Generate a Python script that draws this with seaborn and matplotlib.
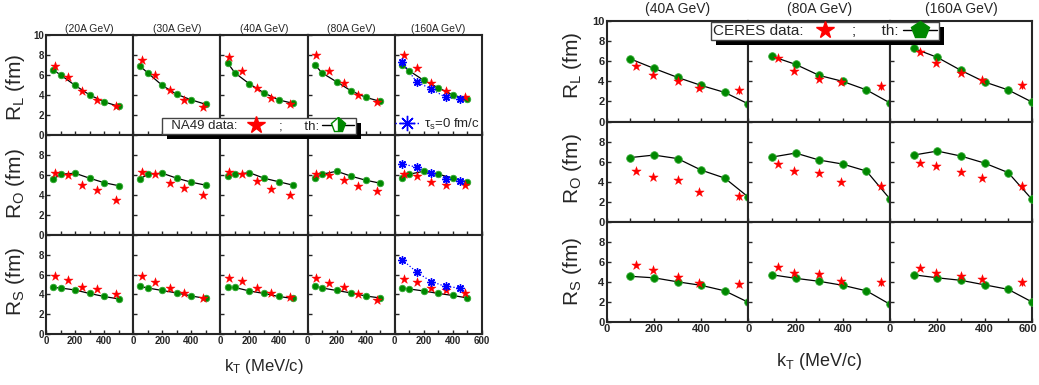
import matplotlib
matplotlib.use("Agg")
import matplotlib.pyplot as plt
import seaborn as sns
from matplotlib.lines import Line2D
from matplotlib.patches import Rectangle
from matplotlib.transforms import ScaledTranslation

# ---- NA49 (left block) ----
na49_energies = ['(20A GeV)', '(30A GeV)', '(40A GeV)', '(80A GeV)', '(160A GeV)']
na49_kt = [60, 150, 250, 350, 480]
na49_th_kt = [50, 100, 200, 300, 400, 500]
tau0_kt = [50, 150, 250, 350, 450]

na49_rl = [[6.9, 5.8, 4.4, 3.5, 2.9],
           [7.5, 6.0, 4.45, 3.5, 2.8],
           [7.75, 6.4, 4.7, 3.7, 3.05],
           [8.0, 6.35, 5.2, 4.0, 3.25],
           [8.0, 6.65, 5.2, 4.4, 3.8]]
na49_ro = [[6.15, 5.95, 4.95, 4.45, 3.5],
           [6.25, 6.05, 5.15, 4.7, 4.0],
           [6.25, 6.05, 5.35, 4.55, 3.95],
           [6.05, 6.0, 5.5, 4.85, 4.4],
           [6.05, 5.85, 5.25, 4.95, 5.0]]
na49_rs = [[5.9, 5.45, 4.7, 4.5, 4.05],
           [5.9, 5.25, 4.6, 4.1, 3.65],
           [5.65, 5.4, 4.6, 4.15, 3.75],
           [5.7, 5.2, 4.7, 4.0, 3.45],
           [5.55, 5.25, 4.65, 4.4, 4.15]]

th_na49_rl = [[6.5, 6.0, 4.95, 4.0, 3.3, 2.85],
              [6.85, 6.2, 4.95, 4.05, 3.5, 3.05],
              [7.2, 6.2, 5.1, 4.2, 3.5, 3.15],
              [7.0, 6.2, 5.3, 4.4, 3.75, 3.35],
              [7.0, 6.4, 5.45, 4.7, 4.0, 3.55]]
th_na49_ro = [[5.55, 6.05, 6.15, 5.65, 5.2, 4.9],
              [5.6, 6.05, 6.15, 5.65, 5.25, 4.95],
              [5.85, 6.05, 6.2, 5.65, 5.3, 4.95],
              [5.65, 6.05, 6.35, 5.85, 5.45, 5.15],
              [5.65, 6.05, 6.35, 6.05, 5.65, 5.25]]
th_na49_rs = [[4.7, 4.65, 4.45, 4.1, 3.8, 3.55],
              [4.8, 4.65, 4.4, 4.15, 3.85, 3.6],
              [4.7, 4.7, 4.35, 4.1, 3.8, 3.6],
              [4.85, 4.65, 4.4, 4.15, 3.85, 3.65],
              [4.65, 4.55, 4.35, 4.1, 3.9, 3.65]]

# tau_s = 0 fm/c curves (160A only)
tau0_rl = [7.3, 5.3, 4.6, 3.75, 3.55]
tau0_ro = [7.1, 6.75, 6.15, 5.6, 5.4]
tau0_rs = [7.5, 6.25, 5.3, 4.8, 4.65]

# ---- CERES (right block) ----
ceres_energies = ['(40A GeV)', '(80A GeV)', '(160A GeV)']
ceres_kt = [125, 195, 300, 390, 560]
ceres_th_kt = [100, 200, 300, 400, 500, 600]
ceres_err = [0.15, 0.15, 0.15, 0.15, 0.35]

ceres_rl = [[5.5, 4.65, 4.05, 3.3, 3.1],
            [6.35, 5.05, 4.25, 3.9, 3.5],
            [6.9, 5.85, 4.85, 4.15, 3.6]]
ceres_ro = [[5.05, 4.5, 4.15, 2.95, 2.55],
            [5.8, 5.05, 4.85, 3.95, 3.6],
            [5.85, 5.6, 4.95, 4.35, 3.55]]
ceres_rs = [[5.65, 5.15, 4.5, 3.85, 3.8],
            [5.5, 4.85, 4.75, 4.05, 3.95],
            [5.35, 4.85, 4.55, 4.25, 3.95]]

th_ceres_rl = [[6.25, 5.3, 4.4, 3.6, 2.9, 1.75],
               [6.5, 5.7, 4.6, 4.0, 3.15, 1.85],
               [7.3, 6.4, 5.1, 3.95, 3.15, 1.95]]
th_ceres_ro = [[6.4, 6.65, 6.3, 5.15, 4.35, 2.45],
               [6.45, 6.85, 6.15, 5.75, 5.05, 2.25],
               [6.65, 7.05, 6.55, 5.85, 4.9, 2.25]]
th_ceres_rs = [[4.55, 4.4, 4.0, 3.65, 3.1, 1.95],
               [4.7, 4.35, 4.05, 3.65, 3.1, 1.75],
               [4.7, 4.4, 4.15, 3.7, 3.25, 2.0]]

row_labels = [r'R$_\mathrm{L}$ (fm)', r'R$_\mathrm{O}$ (fm)', r'R$_\mathrm{S}$ (fm)']

sns.set_style("ticks")
plt.rcParams['font.family'] = ['Liberation Sans', 'DejaVu Sans']
plt.rcParams['mathtext.fontset'] = 'custom'
plt.rcParams['mathtext.rm'] = 'Liberation Sans'
plt.rcParams['mathtext.it'] = 'Liberation Sans:italic'
plt.rcParams['mathtext.bf'] = 'Liberation Sans:bold'

GREEN = '#008800'
W, H = 1039, 385
fig = plt.figure(figsize=(W / 100, H / 100), dpi=100)


def add_ax(x, y, w, h):
    return fig.add_axes([x / W, 1 - (y + h) / H, w / W, h / H])


def style_ax(ax, col, ncol, row, fs):
    ax.set_xlim(0, 600)
    ax.set_ylim(0, 10)
    xt = list(range(0, 601, 100))
    xl = []
    for v in xt:
        if row == 2 and v % 200 == 0 and (v < 600 or col == ncol - 1):
            xl.append(str(v))
        else:
            xl.append('')
    ax.set_xticks(xt)
    ax.set_xticklabels(xl, fontsize=fs, fontweight='bold')
    yt = list(range(0, 11, 2))
    yl = []
    for v in yt:
        if col == 0 and (v < 10 or row == 0):
            yl.append(str(v))
        else:
            yl.append('')
    ax.set_yticks(yt)
    ax.set_yticklabels(yl, fontsize=fs, fontweight='bold')
    ax.tick_params(direction='in', length=3, width=1, pad=1.5)
    for s in ax.spines.values():
        s.set_linewidth(1.5)
    ax.set_xlabel('')
    ax.set_ylabel('')


def draw_panel(ax, th_kt, th_y, d_kt, d_y, d_err, s_th, s_d):
    sns.lineplot(x=th_kt, y=th_y, ax=ax, color='black', lw=0.9, zorder=2)
    sns.scatterplot(x=th_kt, y=th_y, ax=ax, marker='o', s=s_th, color=GREEN,
                    edgecolor='#33aa33', linewidth=0.6, zorder=3)
    if d_err is not None:
        ax.errorbar(d_kt, d_y, yerr=d_err, fmt='none', ecolor='red', elinewidth=0.8, zorder=3)
    sns.scatterplot(x=d_kt, y=d_y, ax=ax, marker='*', s=s_d, color='red',
                    edgecolor='red', linewidth=0.3, zorder=4)


# ---------- left block: NA49 ----------
lx0, lw_, ly0, lh = 46, 87.2, 35, 99.8
na49_sets = [(na49_rl, th_na49_rl, tau0_rl), (na49_ro, th_na49_ro, tau0_ro), (na49_rs, th_na49_rs, tau0_rs)]
tau_ax = None
for r, (dat, th, tau) in enumerate(na49_sets):
    for c in range(5):
        ax = add_ax(lx0 + c * lw_, ly0 + r * lh, lw_, lh)
        draw_panel(ax, na49_th_kt, th[c], na49_kt, dat[c], None, 22, 48)
        if c == 4:
            sns.lineplot(x=tau0_kt, y=tau, ax=ax, color='blue', lw=0.9, ls=':', zorder=2)
            ax.plot(tau0_kt, tau, ls='none', marker=(8, 2, 0), ms=6, mew=1, color='blue', zorder=4)
            if r == 0:
                tau_ax = ax
        style_ax(ax, c, 5, r, 7)
        if r == 0:
            ax.set_title(na49_energies[c], fontsize=7.5, pad=2.5)
    fig.text(15.5 / W, 1 - (87 + r * 97) / H, row_labels[r], rotation=90,
             ha='center', va='center', fontsize=15)

fig.text(264 / W, 1 - 366 / H, r'k$_\mathrm{T}$ (MeV/c)', ha='center', va='center', fontsize=12)

h_tau = Line2D([], [], color='blue', ls=':', lw=1, marker=(8, 2, 0), ms=11, mew=1)
tau_ax.legend([h_tau], [r'τ$_\mathrm{s}$=0 fm/c'], loc='lower right', frameon=False, fontsize=9.5,
              handlelength=1.9, handletextpad=0.3, borderaxespad=0.1, borderpad=0.1)

# ---------- right block: CERES ----------
rx0, rw_, ry0, rh = 606.7, 141.7, 21.3, 100.2
ceres_sets = [(ceres_rl, th_ceres_rl), (ceres_ro, th_ceres_ro), (ceres_rs, th_ceres_rs)]
right_label_y = [65, 169, 271]
for r, (dat, th) in enumerate(ceres_sets):
    for c in range(3):
        ax = add_ax(rx0 + c * rw_, ry0 + r * rh, rw_, rh)
        draw_panel(ax, ceres_th_kt, th[c], ceres_kt, dat[c], ceres_err, 30, 50)
        style_ax(ax, c, 3, r, 8)
        if r == 0:
            ax.set_title(ceres_energies[c], fontsize=10, pad=6)
        if r == 2 and c == 2:
            # keep the final "600" inside the canvas
            lab = ax.get_xticklabels()[-1]
            lab.set_transform(lab.get_transform() + ScaledTranslation(-4 / 100, 0, fig.dpi_scale_trans))
    fig.text(573 / W, 1 - right_label_y[r] / H, row_labels[r], rotation=90,
             ha='center', va='center', fontsize=15)

fig.text(819 / W, 1 - 361 / H, r'k$_\mathrm{T}$ (MeV/c)', ha='center', va='center', fontsize=13)

# ---------- legends with black drop shadow ----------
h_star = Line2D([], [], ls='none', marker='*', color='red', ms=13)
h_th_l = Line2D([], [], color='black', lw=1, marker='p', ms=11, mfc=GREEN, mec=GREEN,
                fillstyle='right', markerfacecoloralt='white')
h_th_r = Line2D([], [], color='black', lw=1, marker='p', ms=13, mfc=GREEN, mec=GREEN)

leg1 = fig.legend([h_star, h_th_l], ['  NA49 data:', ';      th:'], loc='upper left',
                  bbox_to_anchor=(161.7 / W, 1 - 118 / H), ncol=2, markerfirst=False,
                  fancybox=False, edgecolor='#444444', framealpha=1, fontsize=9.5,
                  borderpad=0.15, handlelength=2.4, handletextpad=0.2, columnspacing=0.6,
                  borderaxespad=0)
leg2 = fig.legend([h_star, h_th_r], ['CERES data:', ';      th:'], loc='upper left',
                  bbox_to_anchor=(710.7 / W, 1 - 21.7 / H), ncol=2, markerfirst=False,
                  fancybox=False, edgecolor='#444444', framealpha=1, fontsize=11,
                  borderpad=0.15, handlelength=2.2, handletextpad=0.3, columnspacing=0.7,
                  borderaxespad=0)
leg1.set_zorder(10)
leg2.set_zorder(10)

fig.canvas.draw()
rend = fig.canvas.get_renderer()
inv = fig.transFigure.inverted()
for leg in (leg1, leg2):
    bb = leg.get_frame().get_window_extent(rend)
    (x0, y0), (x1, y1) = inv.transform([(bb.x0 + 5, bb.y0 - 5), (bb.x1 + 5, bb.y1 - 5)])
    fig.add_artist(Rectangle((x0, y0), x1 - x0, y1 - y0, transform=fig.transFigure,
                             facecolor='black', edgecolor='none', zorder=9))

fig.savefig('out.png', dpi=100)
